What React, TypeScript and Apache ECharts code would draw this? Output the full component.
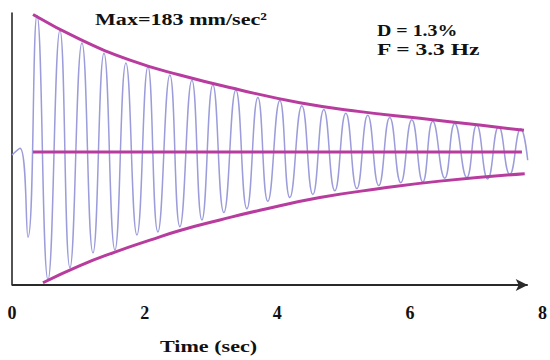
import { useEffect, useRef } from "react";
import * as echarts from "echarts";

// Time (sec) and acceleration (mm/sec²) of the recorded wave's extrema
const waveTime = [
  0, 0.12, 0.241, 0.377, 0.543, 0.723, 0.874, 1.055, 1.221, 1.387, 1.552, 1.718,
  1.884, 2.05, 2.2, 2.381, 2.532, 2.713, 2.864, 3.029, 3.195, 3.376, 3.542, 3.708,
  3.858, 4.039, 4.19, 4.371, 4.537, 4.702, 4.868, 5.034, 5.2, 5.365, 5.531, 5.697,
  5.863, 6.029, 6.195, 6.345, 6.526, 6.677, 6.858, 7.008, 7.174, 7.34, 7.506, 7.671,
  7.777,
];
const waveAccel = [
  -4, 5, -114, 183, -171, 163, -155, 146, -135, 132, -131, 119,
  -111, 114, -107, 103, -100, 96, -91, 90, -81, 83, -76, 73,
  -66, 69, -61, 62, -57, 57, -52, 52, -49, 49, -45, 46,
  -41, 43, -40, 41, -35, 38, -34, 36, -36, 34, -30, 31,
  -11,
];

// Decay envelopes
const upperTime = [0.317, 1.02, 1.78, 2.53, 3.44, 4.34, 5.25, 6.15, 7.05, 7.72];
const upperAccel = [184, 151, 123, 103, 83, 66, 54, 45, 36, 29];
const lowerTime = [0.467, 1.025, 1.552, 2.08, 2.532, 3.135, 3.738, 4.642, 5.546, 6.451, 7.732];
const lowerAccel = [-175, -152, -134, -118, -105, -91, -78, -61, -49, -39, -29];

// Zero line
const centerTime = [0.317, 7.69];
const centerAccel = [0, 0];

// Axes
const X_MIN = 0;
const X_MAX = 8;
const X_STEP = 2;
const X_ARROW_END = 7.777;
const Y_MIN = -178;
const Y_MAX = 186;

const MAX_TEXT = "Max=183 mm/sec²";
const DAMPING_TEXT = "D = 1.3%";
const FREQ_TEXT = "F = 3.3 Hz";
const X_NAME = "Time (sec)";

const MAGENTA = "#b83c9e";
const WAVE = "#9c9cdb";
const FONT = "Liberation Serif";

const zip = (a: number[], b: number[]) => a.map((t, i) => [t, b[i]]);

export default function App() {
  const ref = useRef<HTMLDivElement>(null);

  useEffect(() => {
    if (!ref.current) return;
    const chart = echarts.init(ref.current, undefined, { renderer: "svg" });
    const textStyle = (text: string) => ({
      text,
      fill: "#111",
      fontFamily: FONT,
      fontWeight: "bold",
      fontSize: 17,
      verticalAlign: "middle",
      align: "left",
    });
    chart.setOption({
      animation: false,
      grid: { left: 12, right: 7, top: 13, bottom: 75 },
      xAxis: {
        type: "value",
        min: X_MIN,
        max: X_MAX,
        interval: X_STEP,
        axisLine: { show: false },
        axisTick: { show: false },
        splitLine: { show: false },
        axisLabel: {
          color: "#111",
          fontFamily: FONT,
          fontWeight: "bold",
          fontSize: 18,
          margin: 19,
        },
      },
      yAxis: {
        type: "value",
        min: Y_MIN,
        max: Y_MAX,
        offset: 2,
        axisLine: { show: true, lineStyle: { color: "#1a1a1a", width: 1.5 } },
        axisTick: { show: false },
        axisLabel: { show: false },
        splitLine: { show: false },
      },
      series: [
        {
          type: "line",
          data: zip(waveTime, waveAccel),
          smooth: 0.5,
          symbol: "none",
          clip: false,
          lineStyle: { color: WAVE, width: 1.5 },
          z: 2,
        },
        {
          type: "line",
          data: zip(upperTime, upperAccel),
          smooth: true,
          symbol: "none",
          clip: false,
          lineStyle: { color: MAGENTA, width: 3 },
          z: 3,
        },
        {
          type: "line",
          data: zip(lowerTime, lowerAccel),
          smooth: true,
          symbol: "none",
          clip: false,
          lineStyle: { color: MAGENTA, width: 3 },
          z: 3,
        },
        {
          type: "line",
          data: zip(centerTime, centerAccel),
          symbol: "none",
          clip: false,
          lineStyle: { color: MAGENTA, width: 3 },
          z: 3,
          markLine: {
            silent: true,
            symbol: ["none", "arrow"],
            symbolSize: [9, 12],
            label: { show: false },
            lineStyle: { color: "#2a2a2a", width: 2, type: "solid" },
            data: [[{ coord: [X_MIN, Y_MIN] }, { coord: [X_ARROW_END, Y_MIN] }]],
          },
        },
      ],
      graphic: [
        { type: "text", x: 95, y: 18.5, scaleX: 1.3, style: textStyle(MAX_TEXT) },
        { type: "text", x: 377, y: 30, scaleX: 1.17, style: textStyle(DAMPING_TEXT) },
        { type: "text", x: 377, y: 49.5, scaleX: 1.38, style: textStyle(FREQ_TEXT) },
        { type: "text", x: 160, y: 346, scaleX: 1.3, style: textStyle(X_NAME) },
      ],
    });
    return () => chart.dispose();
  }, []);

  return (
    <div
      ref={ref}
      style={{ position: "fixed", left: 0, top: 0, width: 550, height: 360, background: "#fff" }}
    />
  );
}
